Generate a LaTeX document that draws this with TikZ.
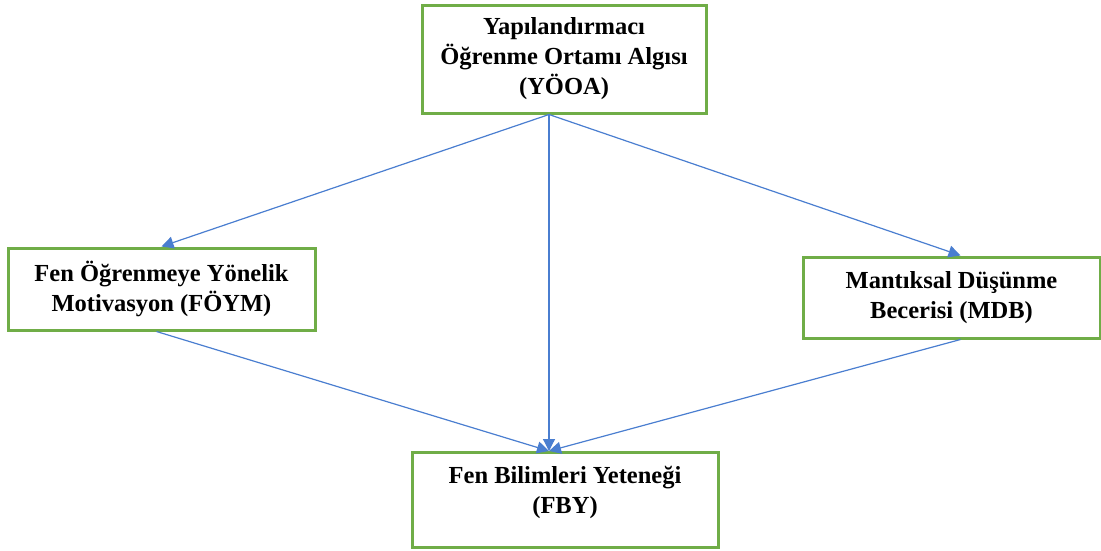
\documentclass[tikz,border=0pt]{standalone}
\usepackage{fontspec}
\setmainfont{Liberation Serif}
\usetikzlibrary{arrows.meta}
\definecolor{kgreen}{HTML}{70AD47}
\definecolor{kblue}{HTML}{4A7ED0}

\tikzset{
  kutu/.style={draw=kgreen, line width=3pt, align=center, inner sep=0pt,
    font=\bfseries\fontsize{24.5}{30}\selectfont},
  ok/.style={draw=kblue, line width=1.2pt, -{Triangle[length=12pt,width=12pt,fill=kblue]}}
}

\begin{document}
\begin{tikzpicture}[x=1pt,y=-1pt]
\useasboundingbox (0,0) rectangle (1101,550);
%Boxes
\node[kutu, minimum width=284, minimum height=108] (yooa) at (564,59) {Yapılandırmacı\\Öğrenme Ortamı Algısı\\(YÖOA)};
\node[kutu, minimum width=307, minimum height=82] (foym) at (161.5,289) {Fen Öğrenmeye Yönelik\\Motivasyon (FÖYM)};
\node[kutu, minimum width=297, minimum height=81] (mdb) at (951.5,297.5) {Mantıksal Düşünme\\Becerisi (MDB)};
\node[kutu, minimum width=306, minimum height=95, text depth=20pt] (fby) at (565,500) {Fen Bilimleri Yeteneği\\(FBY)};
%Arrows
\draw[ok] ([xshift=-15pt]yooa.south) -- (foym.north);
\draw[ok] ([xshift=-15pt]yooa.south) -- ([xshift=-16pt]fby.north);
\draw[ok] ([xshift=-15pt]yooa.south) -- ([xshift=9pt]mdb.north);
\draw[ok] ([xshift=-5pt]foym.south) -- ([xshift=-16pt]fby.north);
\draw[ok] ([xshift=9pt]mdb.south) -- ([xshift=-16pt]fby.north);
\end{tikzpicture}
\end{document}
